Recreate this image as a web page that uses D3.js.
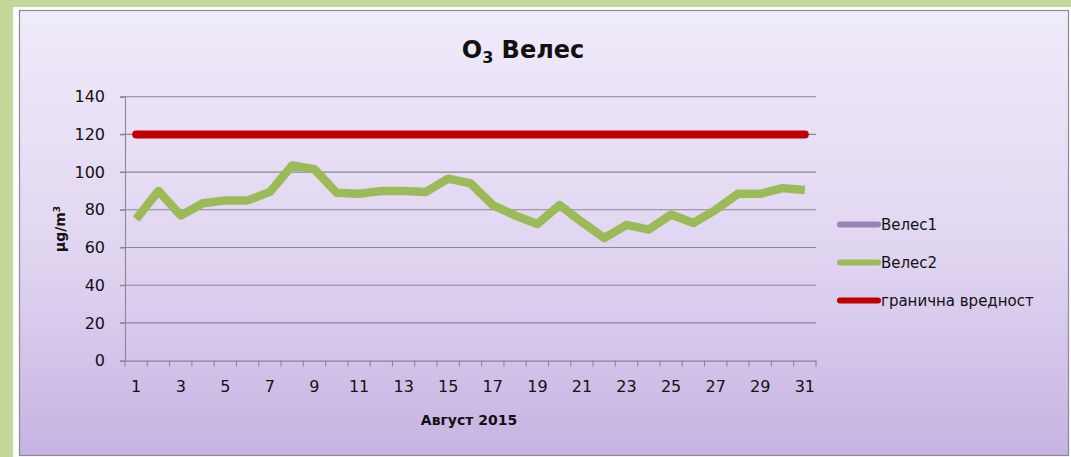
<!DOCTYPE html>
<html>
<head>
<meta charset="utf-8">
<script src="https://cdn.jsdelivr.net/npm/d3@7"></script>
<style>
  html, body { margin: 0; padding: 0; background: #c4d79b; }
  svg { display: block; }
  text { font-family: "DejaVu Sans", sans-serif; fill: #111; }
</style>
</head>
<body>
<svg id="chart" width="1071" height="457"></svg>
<script>
const days = d3.range(1, 32).map(String);
const veles1 = [];
const veles2 = [75, 90, 77, 83.5, 85, 85, 89.5, 103.5, 101.5, 89, 88.5, 90, 90, 89.5, 96.5, 94, 82.5, 77, 72.5, 82.5, 73.5, 65, 72, 69.5, 77.5, 73, 80, 88.5, 88.5, 91.5, 90.5];
const limitValue = 120;
const limit = days.map(() => limitValue);
const yTicks = [0, 20, 40, 60, 80, 100, 120, 140];
const xTickLabels = days.filter((d, i) => i % 2 === 0);
const seriesNames = ["Велес1", "Велес2", "гранична вредност"];
const seriesColors = ["#9484b8", "#9bbb59", "#c00000"];
const titleMain = "O";
const titleSub = "3";
const titleRest = " Велес";
const xTitle = "Август 2015";

const svg = d3.select("#chart");
const defs = svg.append("defs");
const grad = defs.append("linearGradient").attr("id", "bg").attr("x1", 0).attr("y1", 0).attr("x2", 0).attr("y2", 1);
grad.append("stop").attr("offset", "0%").attr("stop-color", "#f0ebf9");
grad.append("stop").attr("offset", "55%").attr("stop-color", "#e0d5f1");
grad.append("stop").attr("offset", "100%").attr("stop-color", "#c6b3e2");

// white frame + chart box
svg.append("rect").attr("x", 13).attr("y", 7).attr("width", 1058).attr("height", 450).attr("fill", "#ffffff");
svg.append("rect").attr("x", 19.5).attr("y", 10.5).attr("width", 1049).attr("height", 445)
  .attr("fill", "url(#bg)").attr("stroke", "#8c8898").attr("stroke-width", 1.2);

const m = { left: 125, right: 816, top: 96.7, bottom: 360.6 };
const x = d3.scaleBand().domain(days).range([m.left, m.right]);
const y = d3.scaleLinear().domain([0, 140]).range([m.bottom, m.top]);

// gridlines
svg.append("g").selectAll("line").data(yTicks.filter(t => t > 0)).join("line")
  .attr("x1", m.left - 5).attr("x2", m.right)
  .attr("y1", d => y(d)).attr("y2", d => y(d))
  .attr("stroke", "#8a8698").attr("stroke-width", 1.1);

// y axis
const yAxis = svg.append("g").attr("transform", `translate(${m.left},0)`)
  .call(d3.axisLeft(y).tickValues(yTicks).tickSize(5).tickPadding(15));
yAxis.select(".domain").attr("stroke", "#8a8698").attr("stroke-width", 1.1);
yAxis.selectAll(".tick line").attr("stroke", "#8a8698");
yAxis.selectAll(".tick text").attr("font-size", 16).attr("font-family", "DejaVu Sans, sans-serif").attr("fill", "#111");

// x axis
const xAxis = svg.append("g").attr("transform", `translate(0,${m.bottom})`)
  .call(d3.axisBottom(x).tickValues(xTickLabels).tickSize(0).tickPadding(20));
xAxis.select(".domain").attr("stroke", "#8a8698").attr("stroke-width", 1.1);
xAxis.selectAll(".tick text").attr("font-size", 16).attr("font-family", "DejaVu Sans, sans-serif").attr("fill", "#111");
// band boundary ticks
svg.append("g").selectAll("line").data(days.concat(["end"])).join("line")
  .attr("x1", (d, i) => m.left + i * x.step()).attr("x2", (d, i) => m.left + i * x.step())
  .attr("y1", m.bottom).attr("y2", m.bottom + 6)
  .attr("stroke", "#8a8698").attr("stroke-width", 1.1);

const line = d3.line().x((d, i) => x(days[i]) + x.bandwidth() / 2).y(d => y(d));

// limit line
svg.append("path").datum(limit).attr("d", line)
  .attr("fill", "none").attr("stroke", seriesColors[2]).attr("stroke-width", 8).attr("stroke-linecap", "round");
// Veles2
svg.append("path").datum(veles2).attr("d", line)
  .attr("fill", "none").attr("stroke", seriesColors[1]).attr("stroke-width", 8.5)
  .attr("stroke-linejoin", "round").attr("stroke-linecap", "butt");

// title
const title = svg.append("text").attr("x", 523).attr("y", 58).attr("text-anchor", "middle")
  .attr("font-size", 24).attr("font-weight", "bold");
title.append("tspan").text(titleMain);
title.append("tspan").attr("font-size", 16).attr("dy", 5).text(titleSub);
title.append("tspan").attr("dy", -5).text(titleRest);

// axis titles
svg.append("text").attr("x", 469).attr("y", 425).attr("text-anchor", "middle")
  .attr("font-size", 14).attr("font-weight", "bold").text(xTitle);
const yl = svg.append("text").attr("transform", "translate(65,229) rotate(-90)").attr("text-anchor", "middle")
  .attr("font-size", 14).attr("font-weight", "bold");
yl.append("tspan").text("µg/m");
yl.append("tspan").attr("font-size", 9).attr("dy", -5).text("3");

// legend
const legY = [224.5, 262.5, 300.5];
const leg = svg.append("g").selectAll("g").data(seriesNames).join("g")
  .attr("transform", (d, i) => `translate(838,${legY[i]})`);
leg.append("line").attr("x1", 2).attr("x2", 40).attr("y1", 0).attr("y2", 0)
  .attr("stroke", (d, i) => seriesColors[i]).attr("stroke-width", 6).attr("stroke-linecap", "round");
leg.append("text").attr("x", 43).attr("y", 5).attr("font-size", 15).text(d => d);
</script>
</body>
</html>
